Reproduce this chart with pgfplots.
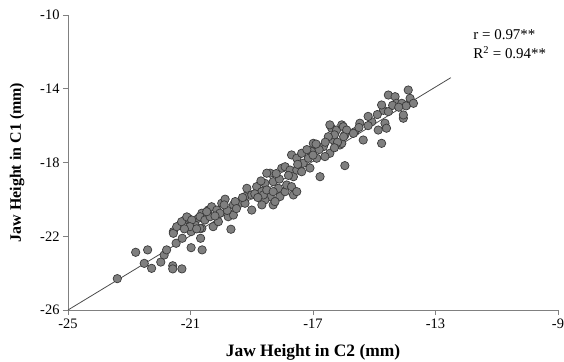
\documentclass[border=0pt]{standalone}
\usepackage{fontspec}
\setmainfont{Liberation Serif}
\usepackage{pgfplots}
\pgfplotsset{compat=1.18}
\definecolor{axgray}{HTML}{808080}
\definecolor{ptfill}{HTML}{7F7F7F}
\definecolor{ptedge}{HTML}{3A3A3A}
\begin{document}
\begin{tikzpicture}
\begin{axis}[
  scale only axis, width=490bp, height=295bp,
  xmin=-25, xmax=-9, ymin=-26, ymax=-10,
  axis lines=left,
  axis line style={axgray, line width=0.9bp, -},
  xtick={-25,-21,-17,-13,-9}, xticklabels={{-25},{-21},{-17},{-13},{-9}},
  ytick={-26,-22,-18,-14,-10}, yticklabels={{-26},{-22},{-18},{-14},{-10}},
  tick align=outside, major tick length=5bp,
  tick style={axgray, line width=0.9bp},
  ticklabel style={font=\fontsize{14.5}{16}\selectfont},
  xlabel={Jaw Height in C2 (mm)}, ylabel={Jaw Height in C1 (mm)},
  x label style={at={(axis description cs:0.5,-0.142)}, anchor=center, font=\fontsize{17.5}{19}\selectfont\bfseries},
  y label style={at={(axis description cs:-0.104,0.5)}, rotate=0, anchor=center, font=\fontsize{16}{18}\selectfont\bfseries},
  clip=false,
]
\addplot[color=black!70, line width=0.8bp] coordinates {(-25,-26) (-12.5,-13.4)};
\addplot[only marks, mark=*, mark size=4.2bp, mark options={fill=ptfill, draw=ptedge, line width=0.7bp}] table {
x y
-23.39 -24.30
-22.79 -22.87
-22.40 -22.74
-22.51 -23.47
-22.27 -23.74
-21.97 -23.40
-21.86 -23.02
-21.78 -22.74
-21.58 -23.60
-21.58 -23.77
-21.28 -23.77
-21.47 -22.38
-21.27 -22.11
-20.98 -22.62
-20.62 -22.74
-20.67 -22.11
-21.56 -21.75
-21.56 -21.84
-21.45 -21.48
-21.18 -21.12
-21.07 -21.03
-20.91 -21.30
-20.75 -21.03
-20.63 -20.75
-20.85 -21.39
-20.63 -21.57
-20.98 -21.75
-21.29 -21.21
-19.68 -21.62
-21.12 -20.95
-20.96 -21.12
-21.02 -21.48
-20.69 -20.94
-20.53 -21.12
-20.36 -20.94
-20.26 -21.48
-20.09 -21.21
-20.69 -21.57
-20.42 -20.58
-20.31 -20.40
-20.14 -20.58
-19.98 -20.21
-19.87 -19.99
-20.04 -20.75
-19.77 -20.94
-19.60 -20.85
-19.60 -20.30
-19.38 -20.21
-19.22 -19.85
-19.16 -19.40
-19.00 -19.76
-19.00 -20.58
-18.84 -19.31
-18.67 -19.58
-18.57 -19.13
-18.40 -18.58
-18.30 -19.04
-18.13 -19.40
-18.08 -19.85
-18.30 -20.30
-18.40 -19.85
-18.57 -20.03
-19.22 -20.21
-19.54 -20.12
-20.47 -20.67
-18.67 -20.30
-18.62 -19.76
-18.51 -18.58
-18.24 -20.12
-17.91 -19.58
-17.86 -19.22
-17.70 -19.31
-17.64 -19.76
-17.53 -19.58
-18.02 -18.31
-17.91 -18.23
-17.75 -18.41
-17.64 -18.77
-17.53 -18.41
-17.37 -18.50
-17.70 -17.59
-17.53 -17.77
-17.37 -17.50
-17.32 -18.04
-17.15 -17.77
-16.99 -16.96
-17.04 -17.41
-16.88 -17.77
-16.77 -18.77
-16.66 -17.14
-16.45 -17.50
-16.61 -17.68
-16.34 -16.78
-16.39 -16.14
-16.23 -16.24
-16.06 -15.96
-15.96 -16.51
-16.12 -17.05
-16.45 -15.96
-15.63 -16.33
-15.96 -18.17
-18.51 -19.49
-18.30 -19.58
-16.01 -16.06
-15.90 -16.24
-16.06 -16.96
-15.68 -16.42
-15.47 -15.87
-15.36 -16.78
-15.08 -15.79
-14.76 -16.96
-14.87 -16.24
-14.65 -15.87
-14.60 -16.14
-14.70 -15.17
-14.76 -14.88
-14.54 -15.24
-14.54 -14.34
-14.32 -14.43
-14.27 -14.79
-14.05 -15.60
-14.05 -15.42
-13.94 -14.88
-13.83 -14.52
-13.72 -14.79
-13.89 -14.07
-14.10 -14.79
-13.96 -14.93
-16.30 -16.50
-16.20 -16.90
-16.50 -16.60
-16.00 -16.60
-16.30 -17.20
-16.60 -16.90
-16.80 -17.30
-17.00 -17.60
-17.20 -17.30
-17.50 -18.10
-17.80 -18.70
-18.10 -18.90
-18.70 -19.00
-18.90 -19.70
-19.30 -19.90
-19.50 -20.50
-19.80 -20.60
-20.20 -20.90
-20.80 -21.60
-21.20 -21.60
-15.20 -15.50
-14.90 -15.40
-15.50 -16.10
-15.20 -16.00
-14.40 -14.90
-14.20 -15.00
-17.10 -18.30
-16.90 -17.00
-18.20 -18.60
-18.80 -19.90
-19.90 -20.30
};
\node[anchor=west, font=\fontsize{15}{17}\selectfont, inner sep=0pt] at (axis description cs:0.827,0.932) {r = 0.97**};
\node[anchor=west, font=\fontsize{15}{17}\selectfont, inner sep=0pt] at (axis description cs:0.827,0.873) {R\textsuperscript{2} = 0.94**};
\end{axis}
\pgfresetboundingbox
\useasboundingbox (-68bp,-52bp) rectangle (496bp,310bp);
\end{tikzpicture}
\end{document}
